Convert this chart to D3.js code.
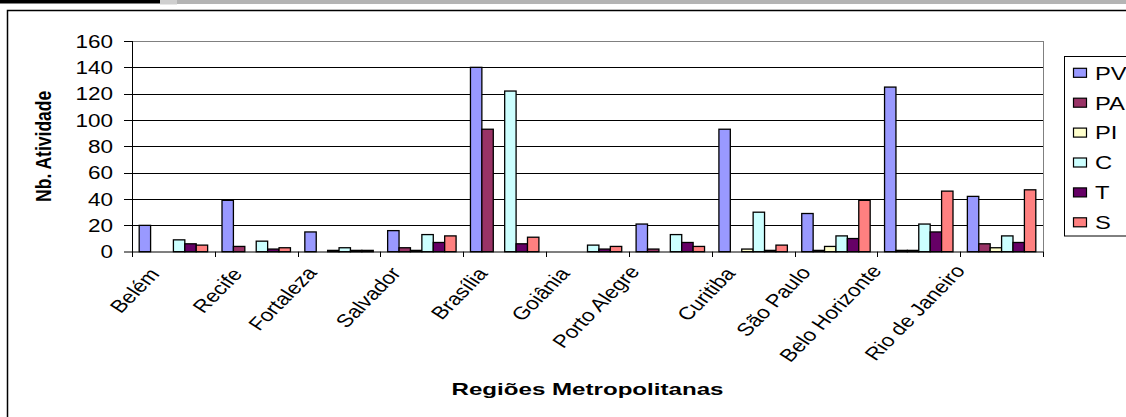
<!DOCTYPE html>
<html><head><meta charset="utf-8">
<script src="https://cdn.jsdelivr.net/npm/d3@7"></script>
<style>body{margin:0;background:#fff}svg{display:block}text{font-family:"Liberation Sans",Arial,sans-serif}</style>
</head><body>
<svg id="c" width="1126" height="417"></svg>
<script>
const categories = ["Belém","Recife","Fortaleza","Salvador","Brasília","Goiânia","Porto Alegre","Curitiba","São Paulo","Belo Horizonte","Rio de Janeiro"];
const seriesNames = ["PV","PA","PI","C","T","S"];
const PV = [20, 39, 15, 16, 140, 0, 21, 93, 29, 125, 42];
const PA = [0, 4, 0, 3, 93, 0, 2, 0, 1, 1, 6];
const PI = [0, 0, 1, 1, 0, 0, 0, 2, 4, 1, 3];
const C  = [9, 8, 3, 13, 122, 5, 13, 30, 12, 21, 12];
const T  = [6, 2, 1, 7, 6, 2, 7, 1, 10, 15, 7];
const S  = [5, 3, 1, 12, 11, 4, 4, 5, 39, 46, 47];
const yTicks = [0,20,40,60,80,100,120,140,160];
const colors = ["#9999FF","#993366","#FFFFCC","#CCFFFF","#660066","#FF8080"];
const yTitle = "Nb. Atividade";
const xTitle = "Regiões Metropolitanas";

const seriesVals = [PV,PA,PI,C,T,S];
const SX = 1.25;
const svg = d3.select("#c");

// header strips and outer frame
svg.append("rect").attr("x",0).attr("y",0).attr("width",160).attr("height",3.5).attr("fill","#000");
svg.append("rect").attr("x",160).attr("y",0).attr("width",17).attr("height",4.5).attr("fill","#cfcfcf");
svg.append("rect").attr("x",177).attr("y",0).attr("width",949).attr("height",4).attr("fill","#b4b4b4");
svg.append("rect").attr("x",7.5).attr("y",10.5).attr("width",1300).attr("height",600)
  .attr("fill","none").attr("stroke","#000").attr("stroke-width",1.5);

const L = 132, R = 1043, TOP = 41, BOT = 251.7;
const x0 = d3.scaleBand().domain(categories).range([L,R]).padding(0);
const x1 = d3.scaleBand().domain(seriesNames).range([0,x0.bandwidth()]).paddingInner(0).paddingOuter(0.63);
const y = d3.scaleLinear().domain([0,160]).range([BOT,TOP]);

// gridlines + y ticks
const gy = svg.append("g");
yTicks.forEach(t=>{
  if(t===0) return;
  gy.append("line").attr("x1",124).attr("x2",R).attr("y1",Math.round(y(t))+0.5).attr("y2",Math.round(y(t))+0.5)
    .attr("stroke", t===160 ? "#808080" : "#000").attr("stroke-width",1);
});
svg.append("line").attr("x1",124).attr("x2",L).attr("y1",TOP+0.5).attr("y2",TOP+0.5).attr("stroke","#000");
yTicks.forEach(t=>{
  svg.append("text").attr("transform",`translate(113,${y(t)+6.5}) scale(${SX},1)`)
    .attr("text-anchor","end").attr("font-size",18).attr("fill","#000").text(t);
});
// plot border right
svg.append("line").attr("x1",R+0.5).attr("x2",R+0.5).attr("y1",TOP).attr("y2",BOT).attr("stroke","#808080");

// bars
const gb = svg.append("g");
categories.forEach((cat,i)=>{
  seriesNames.forEach((s,j)=>{
    const v = seriesVals[j][i];
    if(v<=0) return;
    gb.append("rect").attr("x",x0(cat)+x1(s)).attr("y",y(v)).attr("width",x1.bandwidth()).attr("height",BOT-y(v))
      .attr("fill",colors[j]).attr("stroke","#000").attr("stroke-width",1.3);
  });
});

// axes lines
svg.append("line").attr("x1",L+0.5).attr("x2",L+0.5).attr("y1",TOP).attr("y2",257).attr("stroke","#000");
svg.append("line").attr("x1",124).attr("x2",R+0.5).attr("y1",BOT+0.3).attr("y2",BOT+0.3).attr("stroke","#000").attr("stroke-width",1.2);
categories.concat([null]).forEach((c,i)=>{
  const xx = c===null ? R : x0(c);
  svg.append("line").attr("x1",Math.round(xx)+0.5).attr("x2",Math.round(xx)+0.5).attr("y1",BOT).attr("y2",257).attr("stroke","#000");
});

// x tick labels rotated
const ang = Math.atan(SX)*180/Math.PI;
categories.forEach(cat=>{
  const t = svg.append("text").attr("text-anchor","end").attr("font-size",18).attr("fill","#000").text(cat);
  const len = t.node().getComputedTextLength();
  const cx = x0(cat)+x0.bandwidth()/2;
  const ax = cx + 5 - 0.35*len, ay = 277 - 0.05*len;
  t.attr("transform",`translate(${ax},${ay}) scale(${SX},1) rotate(${-ang})`);
});

// axis titles
svg.append("text").attr("x",(L+R)/2).attr("y",395).attr("text-anchor","middle").attr("font-size",17)
  .attr("font-weight","bold").attr("textLength",272).attr("lengthAdjust","spacingAndGlyphs").text(xTitle);
svg.append("text").attr("transform",`translate(51,${(TOP+BOT)/2}) scale(${SX},1) rotate(-90)`)
  .attr("text-anchor","middle").attr("font-size",17.5).attr("font-weight","bold").text(yTitle);

// legend
svg.append("rect").attr("x",1064.5).attr("y",56.5).attr("width",100).attr("height",179.5)
  .attr("fill","#fff").attr("stroke","#000").attr("stroke-width",1);
seriesNames.forEach((s,j)=>{
  const cy = 72.8 + j*29.9;
  svg.append("rect").attr("x",1073.5).attr("y",cy-4.5).attr("width",13).attr("height",9)
    .attr("fill",colors[j]).attr("stroke","#000").attr("stroke-width",1.2);
  svg.append("text").attr("transform",`translate(1095,${cy+6.8}) scale(${SX},1)`)
    .attr("font-size",19).attr("fill","#000").text(s);
});
</script>
</body></html>
